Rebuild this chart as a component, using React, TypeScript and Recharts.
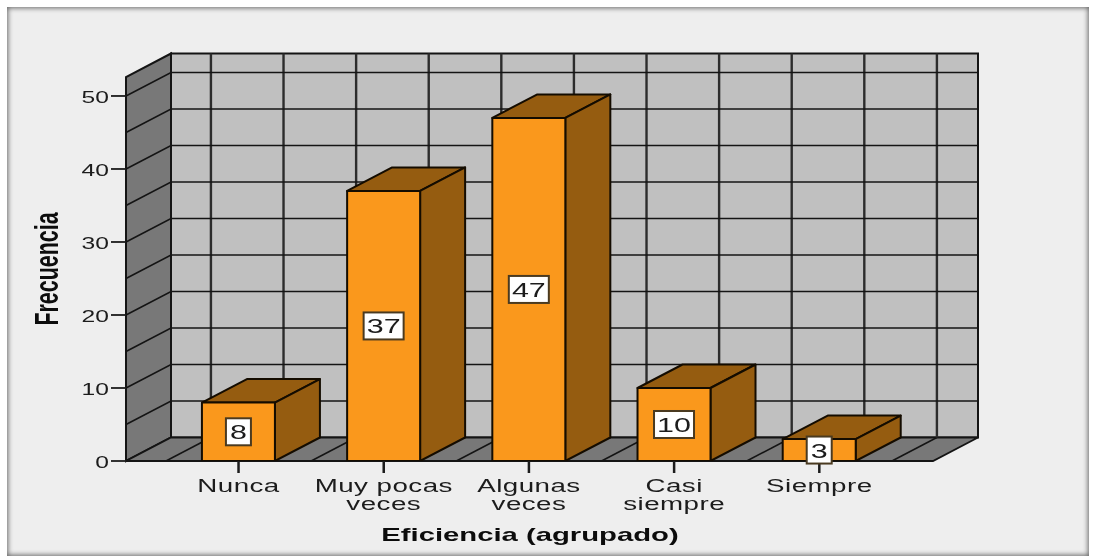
import { BarChart, Bar, XAxis, YAxis, LabelList, ReferenceArea, ReferenceLine } from "recharts";

const categories = ["Nunca", "Muy pocas veces", "Algunas veces", "Casi siempre", "Siempre"];
const tickLines = [["Nunca"], ["Muy pocas", "veces"], ["Algunas", "veces"], ["Casi", "siempre"], ["Siempre"]];
const frecuencia = [8, 37, 47, 10, 3];
const valueTicks = [0, 10, 20, 30, 40, 50];
const gridValues = [5, 10, 15, 20, 25, 30, 35, 40, 45, 50];
const wallLines = [-0.5, 0, 0.5, 1, 1.5, 2, 2.5, 3, 3.5, 4, 4.5];

const data = categories.map((name, i) => ({ pos: i, name, frecuencia: frecuencia[i] }));

// depth of the fake 3d box
const DX = 45;
const DY = 23.5;
const LINE = "#141414";

function Walls({ x, y, width, height }: any) {
  const bottom = y + height;
  const right = x + width;
  return (
    <g>
      <polygon
        points={`${x + DX},${y - DY} ${right + DX},${y - DY} ${right + DX},${bottom - DY} ${x + DX},${bottom - DY}`}
        fill="#c0c0c0"
        stroke={LINE}
        strokeWidth={2}
      />
      <polygon
        points={`${x},${bottom} ${x},${y} ${x + DX},${y - DY} ${x + DX},${bottom - DY}`}
        fill="#787878"
        stroke={LINE}
        strokeWidth={2}
      />
      <polygon
        points={`${x},${bottom} ${right},${bottom} ${right + DX},${bottom - DY} ${x + DX},${bottom - DY}`}
        fill="#787878"
        stroke={LINE}
        strokeWidth={1.8}
      />
    </g>
  );
}

// horizontal grid: side wall diagonal + back wall line
function WallRow({ x1, y1, x2, y2 }: any) {
  const left = Math.min(x1, x2);
  const right = Math.max(x1, x2);
  return (
    <path
      d={`M${left},${y1} L${left + DX},${y1 - DY} L${right + DX},${y2 - DY}`}
      fill="none"
      stroke={LINE}
      strokeWidth={1.6}
    />
  );
}

// vertical grid: floor diagonal + back wall line
function WallColumn({ x1, y1, x2, y2 }: any) {
  const top = Math.min(y1, y2);
  const bottom = Math.max(y1, y2);
  return (
    <g fill="none">
      <path d={`M${x1},${bottom} L${x1 + DX},${bottom - DY}`} stroke={LINE} strokeWidth={1.5} />
      <path d={`M${x1 + DX},${bottom - DY} L${x1 + DX},${top - DY}`} stroke="#2c2c2c" strokeWidth={2.4} />
    </g>
  );
}

function Box({ x, y, width, height }: any) {
  const r = x + width;
  const b = y + height;
  return (
    <g stroke="#140c00" strokeWidth={2} strokeLinejoin="round">
      <polygon points={`${x},${y} ${x + DX},${y - DY} ${r + DX},${y - DY} ${r},${y}`} fill="#955c10" />
      <polygon points={`${r},${y} ${r + DX},${y - DY} ${r + DX},${b - DY} ${r},${b}`} fill="#955c10" />
      <rect x={x} y={y} width={width} height={height} fill="#fa981c" />
    </g>
  );
}

function ValueBox({ x, y, width, height, value }: any) {
  const cx = x + width / 2;
  const cy = y + height / 2;
  const w = String(value).length > 1 ? 40 : 25;
  return (
    <g>
      <rect x={cx - w / 2} y={cy - 13.5} width={w} height={27} fill="#ffffff" stroke="#4a3a20" strokeWidth={2} />
      <text
        transform={`translate(${cx},${cy + 7.5}) scale(1.45,1)`}
        textAnchor="middle"
        fontFamily="Liberation Sans"
        fontSize={21}
        fill="#1c1c1c"
      >
        {value}
      </text>
    </g>
  );
}

function CategoryTick({ x, y, payload }: any) {
  const lines = tickLines[payload.value] ?? [];
  return (
    <g>
      {lines.map((line, i) => (
        <text
          key={line}
          transform={`translate(${x},${y + 19 + i * 18}) scale(1.5,1)`}
          textAnchor="middle"
          fontFamily="Liberation Sans"
          fontSize={18.5}
          letterSpacing={0.3}
          fill="#1c1c1c"
        >
          {line}
        </text>
      ))}
    </g>
  );
}

function ValueTick({ x, y, payload }: any) {
  return (
    <text
      transform={`translate(${x},${y + 7}) scale(1.45,1)`}
      textAnchor="end"
      fontFamily="Liberation Sans"
      fontSize={17}
      fill="#1c1c1c"
    >
      {payload.value}
    </text>
  );
}

export default function App() {
  return (
    <div style={{ position: "absolute", left: 0, top: 0, width: 1093, height: 558, background: "#ffffff", overflow: "hidden" }}>
      <div
        style={{
          position: "absolute",
          left: 7,
          top: 7,
          width: 1082,
          height: 549,
          background: "#eeeeee",
          boxShadow: "inset 0 0 5px 1px #666666",
        }}
      />
      <div style={{ position: "absolute", left: 0, top: 0, filter: "blur(0.6px)" }}>
        <BarChart
          width={1093}
          height={558}
          data={data}
          margin={{ top: 77, right: 160, bottom: 37, left: 66 }}
        >
          <XAxis
            dataKey="pos"
            type="number"
            domain={[-0.775, 4.783]}
            ticks={[0, 1, 2, 3, 4]}
            allowDataOverflow
            height={60}
            axisLine={false}
            tickLine={{ stroke: "#1c1c1c", strokeWidth: 2.5 }}
            tickSize={12}
            tickMargin={0}
            tick={<CategoryTick />}
          />
          <YAxis
            type="number"
            domain={[0, 52.6]}
            ticks={valueTicks}
            allowDataOverflow
            width={60}
            axisLine={false}
            tickLine={{ stroke: "#1c1c1c", strokeWidth: 1.8 }}
            tickSize={15}
            tickMargin={2}
            tick={<ValueTick />}
          />
          <ReferenceArea y1={0} y2={52.6} shape={<Walls />} zIndex={-30} />
          {wallLines.map((v) => (
            <ReferenceLine key={v} x={v} shape={<WallColumn />} zIndex={-20} />
          ))}
          {gridValues.map((v) => (
            <ReferenceLine key={v} y={v} shape={<WallRow />} zIndex={-20} />
          ))}
          <ReferenceLine y={0} stroke={LINE} strokeWidth={2} zIndex={-20} />
          <Bar dataKey="frecuencia" barSize={73} shape={<Box />} isAnimationActive={false}>
            <LabelList dataKey="frecuencia" content={<ValueBox />} />
          </Bar>
          <text
            transform="translate(58,269) rotate(-90) scale(0.65,1)"
            textAnchor="middle"
            fontFamily="Liberation Sans"
            fontWeight="bold"
            fontSize={33}
            fill="#0c0c0c"
          >
            Frecuencia
          </text>
          <text
            transform="translate(530,541) scale(1.54,1)"
            textAnchor="middle"
            fontFamily="Liberation Sans"
            fontWeight="bold"
            fontSize={19}
            fill="#0c0c0c"
          >
            Eficiencia (agrupado)
          </text>
        </BarChart>
      </div>
    </div>
  );
}
